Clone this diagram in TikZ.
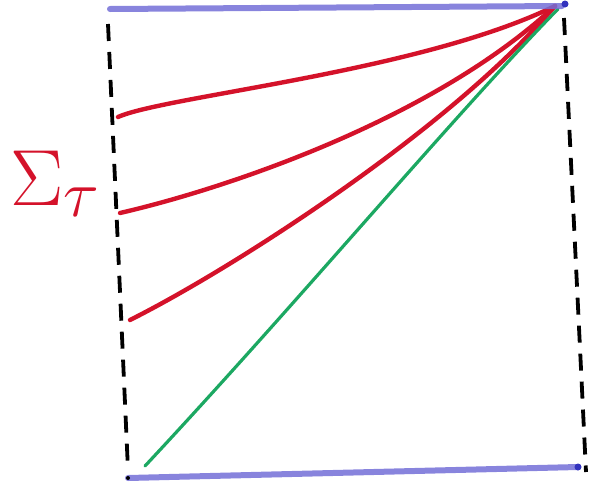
\documentclass[tikz,border=0pt]{standalone}
\usepackage{tikz}
\usetikzlibrary{positioning}
\tikzset{>=stealth}
\definecolor{penblue}{RGB}{115,110,215}
\definecolor{dotblue}{RGB}{50,50,190}
\definecolor{penred}{RGB}{212,18,42}
\definecolor{pengreen}{RGB}{28,168,98}
\tikzset{
  boundary/.style={penblue, line width=6pt, line cap=round, opacity=0.85},
  slice/.style={penred, line width=4.4pt, line cap=round},
  lightray/.style={pengreen, line width=3.2pt, line cap=round},
  edgeline/.style={black, line width=3.8pt, dash pattern=on 17pt off 11pt},
}

\begin{document}
\begin{tikzpicture}[x=1pt, y=-1pt]
\useasboundingbox (0, 0) rectangle (589, 485);
% corners of the strip
\coordinate (tl) at (110, 9);
\coordinate (tr) at (562, 6);
\coordinate (bl) at (128, 478);
\coordinate (br) at (578, 467);
\coordinate (apex) at (555, 6);
% conformal boundaries
\draw[edgeline] (108, 24) -- (128, 470);
\draw[edgeline] (564, 18) -- (586, 472);
% slices
\coordinate (s1) at (118, 117);
\coordinate (s2) at (120, 213);
\coordinate (s3) at (130, 320);
\coordinate (g0) at (145, 466);
\draw[slice] (s1) .. controls (165, 96) and (420, 72) .. (apex);
\draw[slice] (s2) .. controls (220, 190) and (430, 122) .. (apex);
\draw[slice] (s3) .. controls (230, 270) and (450, 130) .. (apex);
\draw[lightray] (g0) .. controls (300, 300) and (450, 120) .. (558, 9);
% past and future
\draw[boundary] (tl) -- (tr);
\draw[boundary] (bl) -- (br);
\fill[dotblue] (565, 4) circle (3.5);
\fill[dotblue] (br) circle (3.5);
\fill[black] (bl) circle (2);
\node[penred, anchor=base west, inner sep=0pt, font=\Huge, scale=3.2] (sigma) at (10, 205) {$\Sigma_\tau$};
\end{tikzpicture}
\end{document}
